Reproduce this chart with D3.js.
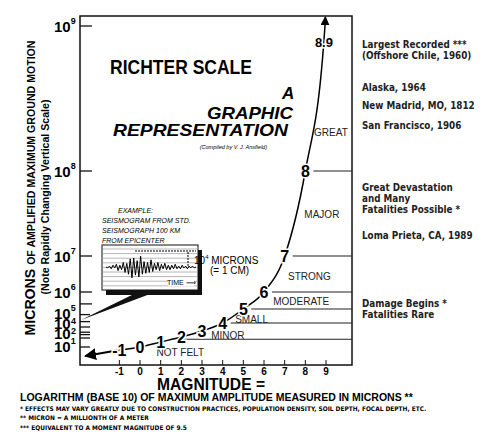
<!DOCTYPE html>
<html><head><meta charset="utf-8">
<script src="https://cdn.jsdelivr.net/npm/d3@7"></script>
<style>body{margin:0;background:#fff}</style>
</head><body>
<script>
const width = 500, height = 447;
const box = {left: 80, right: 352, top: 16, bottom: 365};

// magnitude ticks along x
const magTicks = [-1, 0, 1, 2, 3, 4, 5, 6, 7, 8, 9];
// positions of the curve (magnitude -> log10 microns), rapidly changing vertical scale
const yDomain = [-1.5, -1, 0, 1, 2, 3, 4, 5, 6, 7, 8, 9];
const yRange  = [356, 350, 347, 342, 337, 331, 323, 309, 292, 256, 171, 26];
const curveMags = [-1, 0, 1, 2, 3, 4, 5, 6, 7, 8, 8.9];
const curveLabels = ['-1', '0', '1', '2', '3', '4', '5', '6', '7', '8', '8.9'];
const axisTicks = [9, 8, 7, 6, 5.3, 4.6, 4.1, 3.5, 2.8, 2.4, 1.8, 0];
const axisLabels = [
  {v: 9, sup: '9'}, {v: 8, sup: '8'}, {v: 7, sup: '7'}, {v: 6, sup: '6'},
  {v: 4.75, sup: '5', sub: '4'}, {v: 4, sub: '2'}, {v: 2.7}, {v: 0.2, sup: '1'}
];
// zones: magnitude of lower border line, name, label position in magnitude units
const zoneLines = [8, 7, 6, 5, 4, 1.55];
const zones = [
  {name: 'GREAT', m: 9.24, v: 8.27}, {name: 'MAJOR', m: 8.8, v: 7.5},
  {name: 'STRONG', m: 8.2, v: 6.45}, {name: 'MODERATE', m: 7.8, v: 5.45},
  {name: 'SMALL', m: 5.4, v: 4.3}, {name: 'MINOR', m: 4.25, v: 2.4},
  {name: 'NOT FELT', m: 1.95, v: -1.2}
];
const notes = [
  {v: 8.85, lines: ['Largest Recorded ***', '(Offshore Chile, 1960)']},
  {v: 8.55, lines: ['Alaska, 1964']},
  {v: 8.43, lines: ['New Madrid, MO, 1812']},
  {v: 8.29, lines: ['San Francisco, 1906']},
  {v: 7.77, lines: ['Great Devastation', 'and Many', 'Fatalities Possible *']},
  {v: 7.2, lines: ['Loma Prieta, CA,  1989']},
  {v: 5.1, lines: ['Damage Begins  *', 'Fatalities Rare']}
];
const footnotes = [
  ['*', 'EFFECTS MAY VARY GREATLY DUE TO CONSTRUCTION PRACTICES, POPULATION DENSITY, SOIL DEPTH, FOCAL DEPTH, ETC.'],
  ['**', 'MICRON = A MILLIONTH OF A METER'],
  ['***', 'EQUIVALENT TO A MOMENT MAGNITUDE OF 9.5']
];
// seismogram trace amplitudes (estimated)
const trace = [0,1,-1,2,-2,1,-3,4,-2,3,-5,6,-4,8,-9,12,-10,9,-7,11,-12,8,-6,7,-5,6,-8,5,-4,3,-5,4,-3,2,-4,3,-2,3,-2,2,-3,2,-1,2,-2,1,-1,2,-1,1,-1,1,0];

const x = d3.scaleLinear().domain([0, 9]).range([140, 326]);
const y = d3.scaleLinear().domain(yDomain).range(yRange);
const narrow = 'DejaVu Sans, sans-serif';

const svg = d3.select('body').append('svg')
  .attr('width', width).attr('height', height)
  .style('font-family', 'Liberation Sans, Arial, sans-serif');

const defs = svg.append('defs');
defs.append('marker').attr('id', 'arr').attr('viewBox', '0 0 10 10')
  .attr('refX', 9).attr('refY', 5).attr('markerWidth', 6).attr('markerHeight', 6)
  .attr('orient', 'auto-start-reverse')
  .append('path').attr('d', 'M0,0L10,5L0,10Z').attr('fill', '#000');

// frame
svg.append('rect').attr('x', box.left).attr('y', box.top)
  .attr('width', box.right - box.left).attr('height', box.bottom - box.top)
  .attr('fill', 'none').attr('stroke', '#111').attr('stroke-width', 1.5);

// x ticks
const xg = svg.append('g');
xg.selectAll('line').data(magTicks).join('line')
  .attr('x1', d => x(d)).attr('x2', d => x(d))
  .attr('y1', box.bottom).attr('y2', box.bottom - 5).attr('stroke', '#111');
xg.selectAll('text').data(magTicks).join('text')
  .attr('x', d => x(d)).attr('y', box.bottom + 10).attr('text-anchor', 'middle')
  .attr('font-size', 10).attr('font-weight', 'bold').text(d => d);

// y ticks
svg.append('g').selectAll('line').data(axisTicks).join('line')
  .attr('x1', box.left).attr('x2', d => box.left + (d >= 5.3 ? 12 : 10))
  .attr('y1', d => y(d)).attr('y2', d => y(d)).attr('stroke', '#111').attr('stroke-width', 1.3);
const yl = svg.append('g').selectAll('text').data(axisLabels).join('text')
  .attr('x', 54).attr('y', d => y(d.v) + 6).attr('font-size', 15).attr('font-weight', 'bold');
yl.append('tspan').text('10');
yl.filter(d => d.sup).append('tspan').attr('dy', -8).attr('font-size', 9).text(d => d.sup);
yl.filter(d => d.sub).append('tspan').attr('x', 71).attr('dy', d => d.sup ? 13 : 5).attr('font-size', 9).text(d => d.sub);

// zone lines
svg.append('g').selectAll('line').data(zoneLines).join('line')
  .attr('x1', d => x(d) + 8).attr('x2', box.right)
  .attr('y1', d => y(d)).attr('y2', d => y(d)).attr('stroke', '#222').attr('stroke-width', 1.2);
svg.append('g').selectAll('text').data(zones).join('text')
  .attr('x', d => x(d.m)).attr('y', d => y(d.v) + 4).attr('text-anchor', 'middle')
  .attr('font-size', 10).attr('fill', '#222').text(d => d.name);

// curve
const pts = curveMags.map(m => [x(m), y(m)]).concat([[x(8.95), y(9)]]);
svg.append('path').attr('d', d3.line().curve(d3.curveMonotoneX)(pts))
  .attr('fill', 'none').attr('stroke', '#000').attr('stroke-width', 1.5);
svg.append('line').attr('x1', x(8.95)).attr('y1', y(9)).attr('x2', x(8.97)).attr('y2', box.top + 1)
  .attr('stroke', '#000').attr('stroke-width', 1.5).attr('marker-end', 'url(#arr)');
svg.append('line').attr('x1', x(-1)).attr('y1', y(-1)).attr('x2', x(-2.65)).attr('y2', y(-1.5))
  .attr('stroke', '#000').attr('stroke-width', 2).attr('marker-end', 'url(#arr)');
svg.append('g').selectAll('text').data(curveMags).join('text')
  .attr('x', d => x(d)).attr('y', d => y(d) + 6).attr('text-anchor', 'middle')
  .attr('font-size', d => d > 8 ? 13 : 16).attr('font-weight', 'bold')
  .attr('stroke', '#fff').attr('stroke-width', 3).attr('paint-order', 'stroke')
  .text((d, i) => curveLabels[i]);

// title
svg.append('text').attr('x', 110).attr('y', 74).attr('font-size', 20).attr('font-weight', 'bold')
  .attr('textLength', 142).attr('lengthAdjust', 'spacingAndGlyphs').text('RICHTER SCALE');
const tt = svg.append('g').attr('font-size', 17).attr('font-weight', 'bold').attr('font-style', 'italic');
tt.append('text').attr('x', 282).attr('y', 99).text('A');
tt.append('text').attr('x', 207).attr('y', 119).attr('textLength', 86).attr('lengthAdjust', 'spacingAndGlyphs').text('GRAPHIC');
tt.append('text').attr('x', 113).attr('y', 136).attr('textLength', 175).attr('lengthAdjust', 'spacingAndGlyphs').text('REPRESENTATION');
svg.append('text').attr('x', 267).attr('y', 149).attr('text-anchor', 'end').attr('font-size', 5.5)
  .attr('font-style', 'italic').text('(Compiled by V. J. Ansfield)');

// right notes (condensed look)
const ng = svg.append('g').attr('transform', 'translate(362,0) scale(0.84,1)')
  .selectAll('text').data(notes).join('text')
  .attr('font-family', narrow).attr('font-weight', 'bold').attr('font-size', 10.5).attr('fill', '#222');
ng.selectAll('tspan').data(d => d.lines.map((l, i) => ({l, i, v: d.v}))).join('tspan')
  .attr('x', 0).attr('y', d => y(d.v) + d.i * 11).text(d => d.l);

// seismogram inset
const ins = svg.append('g');
ins.append('text').attr('x', 118).attr('y', 213).attr('font-size', 7).attr('font-style', 'italic').text('EXAMPLE:');
['SEISMOGRAM FROM STD.', 'SEISMOGRAPH 100 KM', 'FROM EPICENTER'].forEach((t, i) =>
  ins.append('text').attr('x', 102).attr('y', 223 + i * 10).attr('font-size', 7).attr('font-style', 'italic').text(t));
ins.append('rect').attr('x', 106).attr('y', 250).attr('width', 96).attr('height', 45).attr('fill', '#111');
ins.append('rect').attr('x', 102).attr('y', 245).attr('width', 96).attr('height', 45).attr('fill', '#fff').attr('stroke', '#111');
ins.selectAll('.hl').data(d3.range(9)).join('line').attr('class', 'hl')
  .attr('x1', 103).attr('x2', 197).attr('y1', d => 249 + d * 4.6).attr('y2', d => 249 + d * 4.6)
  .attr('stroke', '#999').attr('stroke-width', 0.7);
const tx = d3.scaleLinear().domain([0, trace.length - 1]).range([106, 196]);
ins.append('path').attr('d', d3.line().x((d, i) => tx(i)).y(d => 267 + d * 0.9)(trace))
  .attr('fill', 'none').attr('stroke', '#000').attr('stroke-width', 1);
ins.append('line').attr('x1', 135).attr('x2', 196).attr('y1', 251).attr('y2', 251).attr('stroke', '#000').attr('stroke-dasharray', '2,1');
ins.append('line').attr('x1', 188).attr('x2', 188).attr('y1', 252).attr('y2', 266).attr('stroke', '#000').attr('stroke-dasharray', '2,1');
ins.append('rect').attr('x', 168).attr('y', 278).attr('width', 26).attr('height', 8).attr('fill', '#fff');
ins.append('text').attr('x', 167).attr('y', 285).attr('font-size', 7).text('TIME ⟹');
const mt = ins.append('text').attr('x', 194).attr('y', 264).attr('font-size', 10);
mt.append('tspan').text('10');
mt.append('tspan').attr('dy', -5).attr('font-size', 6).text('4');
mt.append('tspan').attr('dy', 5).text(' MICRONS');
ins.append('text').attr('x', 210).attr('y', 274).attr('font-size', 10).text('(= 1 CM)');
ins.append('path').attr('d', 'M140,291L158,291L81,320Z').attr('fill', '#111');

// axis titles
const ya = svg.append('text').attr('transform', 'translate(35,188) rotate(-90)').attr('text-anchor', 'middle')
  .attr('font-weight', 'bold').attr('font-size', 14).attr('textLength', 295).attr('lengthAdjust', 'spacingAndGlyphs');
ya.append('tspan').text('MICRONS ');
ya.append('tspan').attr('font-size', 10.5).text('OF AMPLIFIED MAXIMUM GROUND MOTION');
svg.append('text').attr('transform', 'translate(49,197) rotate(-90)').attr('text-anchor', 'middle')
  .attr('font-weight', 'bold').attr('font-size', 10).attr('textLength', 195).attr('lengthAdjust', 'spacingAndGlyphs')
  .text('(Note Rapidly Changing Vertical Scale)');

svg.append('text').attr('x', 157).attr('y', 390).attr('font-size', 17).attr('font-weight', 'bold')
  .attr('textLength', 108).attr('lengthAdjust', 'spacingAndGlyphs').text('MAGNITUDE =');
svg.append('text').attr('x', 20).attr('y', 401).attr('font-size', 10.5).attr('font-weight', 'bold')
  .text('LOGARITHM (BASE 10) OF MAXIMUM AMPLITUDE MEASURED IN MICRONS **');
svg.append('g').attr('transform', 'translate(20,0) scale(0.93,1)')
  .selectAll('text').data(footnotes).join('text')
  .attr('x', 0).attr('y', (d, i) => 411 + i * 9.5)
  .attr('font-family', narrow).attr('font-size', 6.3).attr('font-weight', 'bold')
  .text(d => d[0] + ' ' + d[1]);
</script>
</body></html>
